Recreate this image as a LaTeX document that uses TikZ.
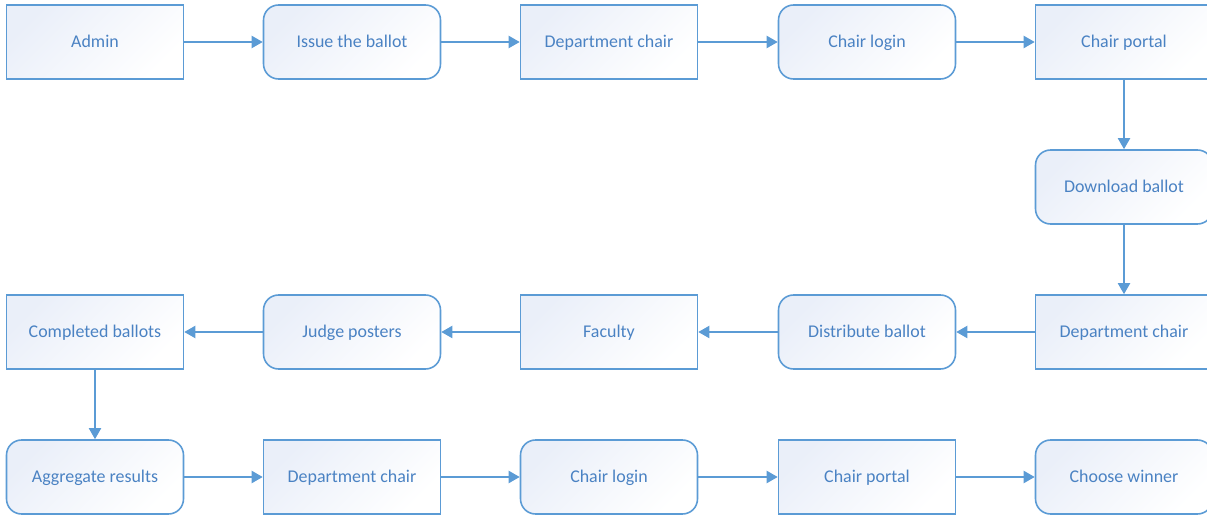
\documentclass[tikz,border=0pt]{standalone}
\usepackage{fontspec}
\setmainfont{Carlito}
\usetikzlibrary{arrows.meta}
\definecolor{flowline}{HTML}{5B9BD5}
\definecolor{flowtext}{HTML}{4A82C3}
\definecolor{flowfill}{HTML}{EAEFF9}
\begin{document}
\begin{tikzpicture}[x=0.02cm,y=-0.02cm]
		\tikzset{flowbox/.style={draw=flowline,line width=0.9pt,minimum width=3.54cm,minimum height=1.48cm,
				left color=flowfill,right color=white,shading angle=45,
				font=\fontsize{10.2}{12}\selectfont,text=flowtext,inner sep=0pt,
				text height=1.6ex,text depth=0.4ex},
			flowround/.style={flowbox,rounded corners=0.3cm},
			flowarrow/.style={draw=flowline,line width=1.1pt,-{Triangle[length=2.2mm,width=2.4mm]}}}
		\useasboundingbox (0,0) rectangle (1207,516);
		%Top row
		\node[flowbox] (admin) at (95,42) {Admin};
		\node[flowround] (issue) at (352,42) {Issue the ballot};
		\node[flowbox] (chairA) at (609,42) {Department chair};
		\node[flowround] (loginA) at (867,42) {Chair login};
		\node[flowbox] (portalA) at (1124,42) {Chair portal};
		%Right column
		\node[flowround] (download) at (1124,187) {Download ballot};
		%Third row
		\node[flowbox] (chairB) at (1124,332) {Department chair};
		\node[flowround] (distribute) at (867,332) {Distribute ballot};
		\node[flowbox] (faculty) at (609,332) {Faculty};
		\node[flowround] (judge) at (352,332) {Judge posters};
		\node[flowbox] (completed) at (95,332) {Completed ballots};
		%Bottom row
		\node[flowround] (aggregate) at (95,477) {Aggregate results};
		\node[flowbox] (chairC) at (352,477) {Department chair};
		\node[flowround] (loginC) at (609,477) {Chair login};
		\node[flowbox] (portalC) at (867,477) {Chair portal};
		\node[flowround] (winner) at (1124,477) {Choose winner};
		%Arrows
		\draw[flowarrow] (admin) -- (issue);
		\draw[flowarrow] (issue) -- (chairA);
		\draw[flowarrow] (chairA) -- (loginA);
		\draw[flowarrow] (loginA) -- (portalA);
		\draw[flowarrow] (portalA) -- (download);
		\draw[flowarrow] (download) -- (chairB);
		\draw[flowarrow] (chairB) -- (distribute);
		\draw[flowarrow] (distribute) -- (faculty);
		\draw[flowarrow] (faculty) -- (judge);
		\draw[flowarrow] (judge) -- (completed);
		\draw[flowarrow] (completed) -- (aggregate);
		\draw[flowarrow] (aggregate) -- (chairC);
		\draw[flowarrow] (chairC) -- (loginC);
		\draw[flowarrow] (loginC) -- (portalC);
		\draw[flowarrow] (portalC) -- (winner);
	\end{tikzpicture}
\end{document}
